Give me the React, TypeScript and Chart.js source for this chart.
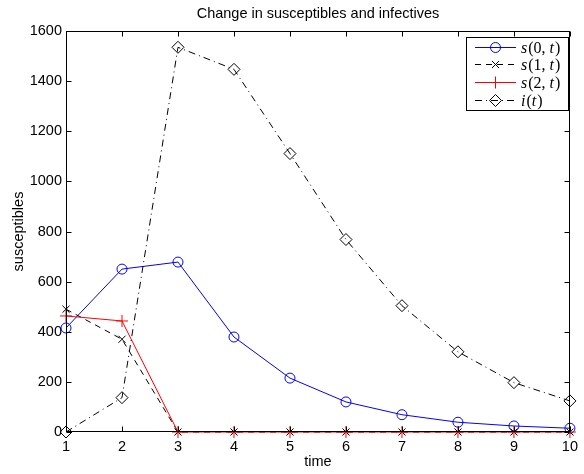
import React, { useEffect, useRef } from "react";
import { Chart, registerables } from "chart.js";

Chart.register(...registerables);

const timeSteps = [1, 2, 3, 4, 5, 6, 7, 8, 9, 10];
const s0Values = [415, 650, 678, 379, 215, 120, 69, 39, 24, 15];
const s1Values = [490, 370, 0, 0, 0, 0, 0, 0, 0, 0];
const s2Values = [463, 443, 0, 0, 0, 0, 0, 0, 0, 0];
const iValues = [0, 137, 1535, 1447, 1111, 768, 504, 320, 197, 124];
const yTicks = [0, 200, 400, 600, 800, 1000, 1200, 1400, 1600];

const titleText = "Change in susceptibles and infectives";
const xLabel = "time";
const yLabel = "susceptibles";

type LegendEntry = {
  parts: { t: string; it: boolean }[];
  color: string;
  dash: number[];
  marker: string;
  radius: number;
};

const legendEntries: LegendEntry[] = [
  { parts: [{ t: "s", it: true }, { t: "(0, ", it: false }, { t: "t", it: true }, { t: ")", it: false }], color: "#0000ff", dash: [], marker: "circle", radius: 5 },
  { parts: [{ t: "s", it: true }, { t: "(1, ", it: false }, { t: "t", it: true }, { t: ")", it: false }], color: "#000000", dash: [6, 5], marker: "crossRot", radius: 5 },
  { parts: [{ t: "s", it: true }, { t: "(2, ", it: false }, { t: "t", it: true }, { t: ")", it: false }], color: "#ff0000", dash: [], marker: "cross", radius: 6 },
  { parts: [{ t: "i", it: true }, { t: "(", it: false }, { t: "t", it: true }, { t: ")", it: false }], color: "#000000", dash: [7, 4, 1, 4], marker: "rectRot", radius: 6 },
];

const FONT = "'Liberation Sans', Arial, sans-serif";
const FONT_SIZE = 14.5;

function drawMarker(ctx: CanvasRenderingContext2D, kind: string, x: number, y: number, r: number, color: string) {
  ctx.save();
  ctx.setLineDash([]);
  ctx.strokeStyle = color;
  ctx.lineWidth = 1;
  ctx.beginPath();
  if (kind === "circle") {
    ctx.arc(x, y, r, 0, Math.PI * 2);
  } else if (kind === "cross") {
    ctx.moveTo(x - r, y);
    ctx.lineTo(x + r, y);
    ctx.moveTo(x, y - r);
    ctx.lineTo(x, y + r);
  } else if (kind === "crossRot") {
    const d = r * Math.SQRT1_2;
    ctx.moveTo(x - d, y - d);
    ctx.lineTo(x + d, y + d);
    ctx.moveTo(x - d, y + d);
    ctx.lineTo(x + d, y - d);
  } else if (kind === "rectRot") {
    ctx.moveTo(x - r, y);
    ctx.lineTo(x, y - r);
    ctx.lineTo(x + r, y);
    ctx.lineTo(x, y + r);
    ctx.closePath();
  }
  ctx.stroke();
  ctx.restore();
}

const framePlugin = {
  id: "frameAndLegend",
  afterDraw(chart: any) {
    const ctx: CanvasRenderingContext2D = chart.ctx;
    const { left, right, top, bottom } = chart.chartArea;
    const xs = chart.scales.x;
    const ys = chart.scales.y;
    ctx.save();

    // title centred over the plot area
    ctx.fillStyle = "#000";
    ctx.font = `${FONT_SIZE}px ${FONT}`;
    ctx.textAlign = "center";
    ctx.textBaseline = "middle";
    ctx.fillText(titleText, (left + right) / 2, 14);

    ctx.strokeStyle = "#000";
    ctx.lineWidth = 1;
    ctx.setLineDash([]);
    const L = Math.round(left) + 0.5;
    const R = Math.round(right) - 0.5;
    const T = Math.round(top) + 0.5;
    const B = Math.round(bottom) - 0.5;
    ctx.strokeRect(L, T, R - L, B - T);
    const tl = 5;
    ctx.beginPath();
    timeSteps.forEach((v) => {
      const px = Math.round(xs.getPixelForValue(v)) + 0.5;
      ctx.moveTo(px, B);
      ctx.lineTo(px, B - tl);
      ctx.moveTo(px, T);
      ctx.lineTo(px, T + tl);
    });
    yTicks.forEach((v) => {
      const py = Math.round(ys.getPixelForValue(v)) + 0.5;
      ctx.moveTo(L, py);
      ctx.lineTo(L + tl, py);
      ctx.moveTo(R, py);
      ctx.lineTo(R - tl, py);
    });
    ctx.stroke();

    // legend
    const bx = 466.5, by = 37.5, bw = 102, bh = 73;
    ctx.fillStyle = "#fff";
    ctx.fillRect(bx, by, bw, bh);
    ctx.strokeStyle = "#000";
    ctx.strokeRect(bx, by, bw, bh);
    const rowY = [47.5, 64.5, 82.5, 100.5];
    legendEntries.forEach((e, i) => {
      const y = rowY[i];
      ctx.save();
      ctx.strokeStyle = e.color;
      ctx.lineWidth = 1;
      ctx.setLineDash(e.dash);
      ctx.beginPath();
      ctx.moveTo(475, y);
      ctx.lineTo(516, y);
      ctx.stroke();
      ctx.restore();
      drawMarker(ctx, e.marker, 495.5, y, e.radius, e.color);
      let tx = 521;
      ctx.fillStyle = "#000";
      ctx.textBaseline = "middle";
      ctx.textAlign = "left";
      e.parts.forEach((p) => {
        ctx.font = (p.it ? "italic " : "") + "16px 'Liberation Serif', 'DejaVu Serif', serif";
        ctx.fillText(p.t, tx, y + 1);
        tx += ctx.measureText(p.t).width + (p.it ? 1 : 0);
      });
    });
    ctx.restore();
  },
};

export default function App() {
  const canvasRef = useRef<HTMLCanvasElement | null>(null);

  useEffect(() => {
    if (!canvasRef.current) return;
    const tickFont = { family: FONT, size: FONT_SIZE };
    const chart = new Chart(canvasRef.current, {
      type: "line",
      data: {
        datasets: [
          {
            label: "s(0, t)",
            data: timeSteps.map((x, i) => ({ x, y: s0Values[i] })),
            borderColor: "#0000ff",
            backgroundColor: "rgba(0,0,0,0)",
            borderWidth: 1,
            pointStyle: "circle",
            pointRadius: 5,
            pointBorderWidth: 1,
            pointBorderColor: "#0000ff",
            pointBackgroundColor: "rgba(0,0,0,0)",
            tension: 0,
            clip: false,
            order: 4,
          },
          {
            label: "s(1, t)",
            data: timeSteps.map((x, i) => ({ x, y: s1Values[i] })),
            borderColor: "#000000",
            backgroundColor: "rgba(0,0,0,0)",
            borderWidth: 1,
            borderDash: [6, 5],
            pointStyle: "crossRot",
            pointRadius: 5,
            pointBorderWidth: 1,
            pointBorderColor: "#000000",
            tension: 0,
            clip: false,
            order: 3,
          },
          {
            label: "s(2, t)",
            data: timeSteps.map((x, i) => ({ x, y: s2Values[i] })),
            borderColor: "#ff0000",
            backgroundColor: "rgba(0,0,0,0)",
            borderWidth: 1,
            pointStyle: "cross",
            pointRadius: 6,
            pointBorderWidth: 1,
            pointBorderColor: "#ff0000",
            tension: 0,
            clip: false,
            order: 2,
          },
          {
            label: "i(t)",
            data: timeSteps.map((x, i) => ({ x, y: iValues[i] })),
            borderColor: "#000000",
            backgroundColor: "rgba(0,0,0,0)",
            borderWidth: 1,
            borderDash: [7, 4, 1, 4],
            pointStyle: "rectRot",
            pointRadius: 6,
            pointBorderWidth: 1,
            pointBorderColor: "#000000",
            pointBackgroundColor: "rgba(0,0,0,0)",
            tension: 0,
            clip: false,
            order: 1,
          },
        ],
      },
      options: {
        responsive: false,
        animation: false,
        layout: { padding: { left: 0, right: 8, top: 31, bottom: 0 } },
        plugins: {
          legend: { display: false },
          tooltip: { enabled: false },
          title: { display: false },
        },
        scales: {
          x: {
            type: "linear",
            min: 1,
            max: 10,
            grid: { display: false, drawTicks: false },
            border: { display: false },
            afterFit: (s: any) => {
              s.height = 42;
            },
            afterBuildTicks: (s: any) => {
              s.ticks = timeSteps.map((v) => ({ value: v }));
            },
            ticks: {
              color: "#000",
              font: tickFont,
              padding: 6,
              maxRotation: 0,
              autoSkip: false,
              callback: (v: any) => String(v),
            },
            title: {
              display: true,
              text: xLabel,
              color: "#000",
              font: tickFont,
              padding: { top: 0, bottom: 3 },
            },
          },
          y: {
            type: "linear",
            min: 0,
            max: 1600,
            grid: { display: false, drawTicks: false },
            border: { display: false },
            afterFit: (s: any) => {
              s.width = 66;
            },
            afterBuildTicks: (s: any) => {
              s.ticks = yTicks.map((v) => ({ value: v }));
            },
            ticks: {
              color: "#000",
              font: tickFont,
              padding: 4,
              autoSkip: false,
              callback: (v: any) => String(v),
            },
            title: {
              display: true,
              text: yLabel,
              color: "#000",
              font: tickFont,
              padding: { top: 10, bottom: 0 },
            },
          },
        },
      },
      plugins: [framePlugin],
    } as any);
    return () => chart.destroy();
  }, []);

  return (
    <canvas
      ref={canvasRef}
      width={584}
      height={474}
      style={{ position: "fixed", left: 0, top: 0, width: 584, height: 474, background: "#fff" }}
    />
  );
}
